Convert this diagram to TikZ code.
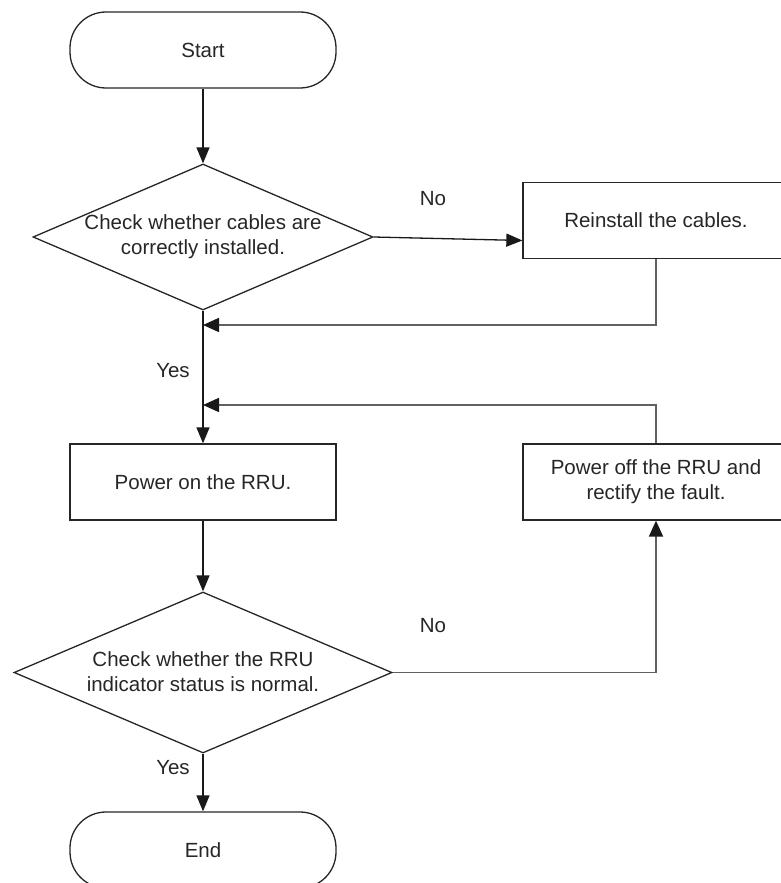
\documentclass[tikz,border=0pt]{standalone}
\usepackage{fontspec}
\setmainfont{Liberation Sans}
\usetikzlibrary{shapes.geometric,arrows.meta}
\begin{document}
\begin{tikzpicture}[x=1pt,y=-1pt,
  every node/.style={text=black!85,font=\fontsize{20.5}{25}\selectfont},
  term/.style={draw=black!85,line width=1.3pt,rectangle,rounded corners=36pt,minimum width=266pt,minimum height=76pt,inner sep=0pt},
  procbox/.style={draw=black!85,line width=1.3pt,rectangle,minimum width=266pt,minimum height=76pt,inner sep=0pt,align=center},
  decision/.style={draw=black!85,line width=1.3pt,diamond,inner sep=0pt},
  txt/.style={align=center,inner sep=0pt},
  flow/.style={draw=black!90,line width=1.3pt,-{Triangle[length=16pt,width=13pt]}},
  loopline/.style={draw=black!62,line width=1.8pt},
  looparrow/.style={draw=black!62,line width=1.8pt,-{Triangle[length=16pt,width=14pt,color=black!90]}}
]
\useasboundingbox (0,0) rectangle (781,883);
\node[term] (start) at (203,50) {Start};
\node[decision,minimum width=340pt,minimum height=146pt] (d1) at (203,237) {};
\node[txt] (d1t) at (203,237) {Check whether cables are\\correctly installed.};
\node[procbox] (r1) at (656,220.5) {Reinstall the cables.};
\node[procbox] (p1) at (203,482) {Power on the RRU.};
\node[procbox] (p2) at (656,482) {Power off the RRU and\\rectify the fault.};
\node[decision,minimum width=378pt,minimum height=161pt] (d2) at (203,672.5) {};
\node[txt] (d2t) at (203,672) {Check whether the RRU\\indicator status is normal.};
\node[term] (end) at (203,850) {End};
\coordinate (j1) at (203,325);
\coordinate (j2) at (203,405);
\node[txt] (no1) at (433,199) {No};
\node[txt] (yes1) at (173,371) {Yes};
\node[txt] (no2) at (433,626) {No};
\node[txt] (yes2) at (173,768) {Yes};
\draw[flow] (start.south) -- (d1.north);
\draw[flow] (d1.east) -- ([yshift=-20pt]r1.west);
\draw[flow] (d1.south) -- (p1.north);
\draw[looparrow] (r1.south) |- (j1);
\draw[looparrow] (p2.north) |- (j2);
\draw[flow] (p1.south) -- (d2.north);
\draw[flow] (d2.south) -- (end.north);
\draw[loopline,-{Triangle[length=16pt,width=14pt,color=black!90]}] (d2.east) -| (p2.south);
\end{tikzpicture}
\end{document}
